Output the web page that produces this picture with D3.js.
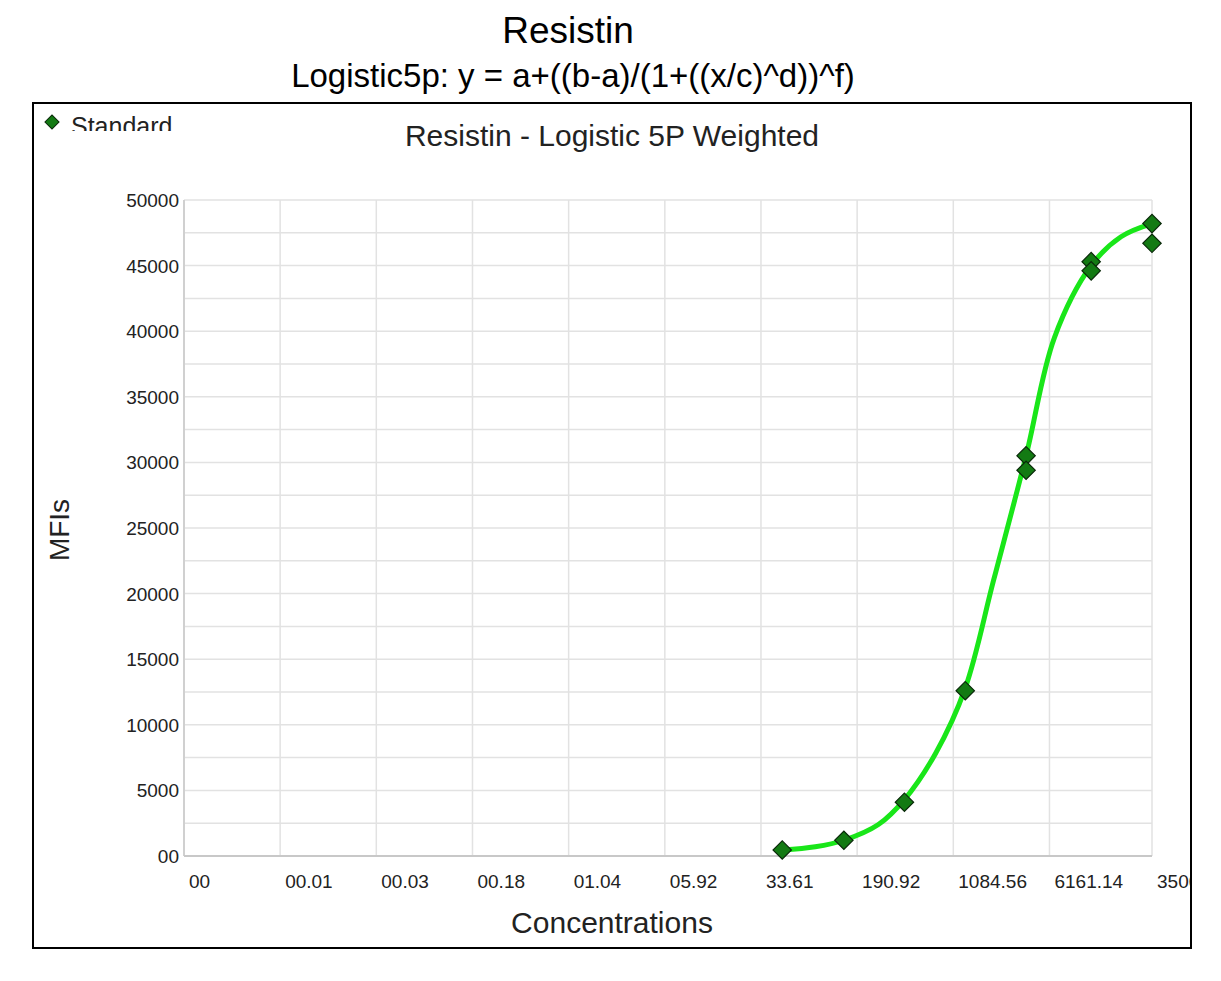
<!DOCTYPE html>
<html><head><meta charset="utf-8">
<script src="https://cdn.jsdelivr.net/npm/d3@7"></script>
<style>body{margin:0;background:#fff}</style>
</head><body>
<svg id="graph" width="1221" height="981"></svg>
<script>
'use strict'

var xTickValues = [0.000893, 0.00507, 0.0288, 0.1636, 0.929, 5.28, 29.97, 170.2, 966.9, 5492, 35000];
var xTickLabels = ['00', '00.01', '00.03', '00.18', '01.04', '05.92', '33.61', '190.92', '1084.56', '6161.14', '35000'];
var yTicks = [0, 5000, 10000, 15000, 20000, 25000, 30000, 35000, 40000, 45000, 50000];
var yTickLabels = ['00', '5000', '10000', '15000', '20000', '25000', '30000', '35000', '40000', '45000', '50000'];
var stdConc = [44, 134, 400, 1200, 3600, 3600, 11667, 11667, 35000, 35000];
var stdMfi = [460, 1200, 4100, 12600, 30500, 29400, 45300, 44600, 48200, 46700];
var curveConc = [44, 80, 134, 250, 400, 700, 1200, 2000, 3600, 6000, 11667, 20000, 35000];
var curveMfi = [450, 700, 1200, 2400, 4300, 7800, 12800, 21000, 30500, 39500, 45000, 47200, 48200];

var svg = d3.select('#graph');
var plot = {left: 184, right: 1152, top: 200, bottom: 856};

var x = d3.scaleLog().domain([xTickValues[0], 35000]).range([plot.left, plot.right]);
var y = d3.scaleLinear().domain([0, 50000]).range([plot.bottom, plot.top]);
var font = 'Liberation Sans, Arial';

svg.append('text').attr('x', 568).attr('y', 43).attr('text-anchor', 'middle')
	.style('font', '37px ' + font).text('Resistin');
svg.append('text').attr('x', 573).attr('y', 87).attr('text-anchor', 'middle')
	.style('font', '33px ' + font).text('Logistic5p: y = a+((b-a)/(1+((x/c)^d))^f)');

svg.append('defs').append('clipPath').attr('id', 'box')
	.append('rect').attr('x', 34).attr('y', 104).attr('width', 1156).attr('height', 843);
svg.append('defs').append('clipPath').attr('id', 'legendClip')
	.append('rect').attr('x', 34).attr('y', 104).attr('width', 200).attr('height', 27);

var g = svg.append('g').attr('clip-path', 'url(#box)');

g.append('text').attr('x', 612).attr('y', 146).attr('text-anchor', 'middle').attr('fill', '#222')
	.style('font', '30px ' + font).text('Resistin - Logistic 5P Weighted');

function diamond(sel, cx, cy, side, sw) {
	sel.append('rect').attr('x', -side / 2).attr('y', -side / 2).attr('width', side).attr('height', side)
		.attr('transform', 'translate(' + cx + ',' + cy + ') rotate(45)')
		.attr('fill', '#137a13').attr('stroke', '#0a2a0a').attr('stroke-width', sw);
}

var legend = g.append('g').attr('clip-path', 'url(#legendClip)');
diamond(legend, 52, 122, 10, 1);
legend.append('text').attr('x', 71).attr('y', 135).attr('fill', '#222')
	.style('font', '25px ' + font).text('Standard');

for (var v = 2500; v <= 50000; v += 2500) {
	g.append('line').attr('x1', plot.left).attr('x2', plot.right).attr('y1', y(v)).attr('y2', y(v))
		.attr('stroke', '#e2e2e2').attr('stroke-width', 1.5);
}
xTickValues.slice(1).forEach(function(t) {
	g.append('line').attr('x1', x(t)).attr('x2', x(t)).attr('y1', plot.top).attr('y2', plot.bottom)
		.attr('stroke', '#e2e2e2').attr('stroke-width', 1.5);
});
g.append('line').attr('x1', plot.left).attr('x2', plot.left).attr('y1', plot.top).attr('y2', plot.bottom)
	.attr('stroke', '#d0d0d0').attr('stroke-width', 2);
g.append('line').attr('x1', plot.left).attr('x2', plot.right).attr('y1', plot.bottom).attr('y2', plot.bottom)
	.attr('stroke', '#c8c8c8').attr('stroke-width', 2);

yTicks.forEach(function(t, i) {
	g.append('text').attr('x', 179).attr('y', y(t) + 7).attr('text-anchor', 'end').attr('fill', '#222')
		.style('font', '19px ' + font).text(yTickLabels[i]);
});
xTickLabels.forEach(function(lab, i) {
	g.append('text').attr('x', x(xTickValues[i]) + 5).attr('y', 888).attr('fill', '#222')
		.style('font', '19px ' + font).text(lab);
});

g.append('text').attr('x', 612).attr('y', 933).attr('text-anchor', 'middle').attr('fill', '#222')
	.style('font', '30px ' + font).text('Concentrations');
g.append('text').attr('transform', 'translate(69,530) rotate(-90)').attr('text-anchor', 'middle').attr('fill', '#222')
	.style('font', '28px ' + font).text('MFIs');

var line = d3.line().x(function(d) { return x(d[0]); }).y(function(d) { return y(d[1]); }).curve(d3.curveCatmullRom.alpha(0.5));
g.append('path').datum(d3.zip(curveConc, curveMfi)).attr('d', line)
	.attr('fill', 'none').attr('stroke', '#19e619').attr('stroke-width', 5);

d3.zip(stdConc, stdMfi).forEach(function(d) {
	diamond(g, x(d[0]), y(d[1]), 13, 1.2);
});

svg.append('rect').attr('x', 33).attr('y', 103).attr('width', 1158).attr('height', 845)
	.attr('fill', 'none').attr('stroke', '#000').attr('stroke-width', 2);
</script>
</body></html>
